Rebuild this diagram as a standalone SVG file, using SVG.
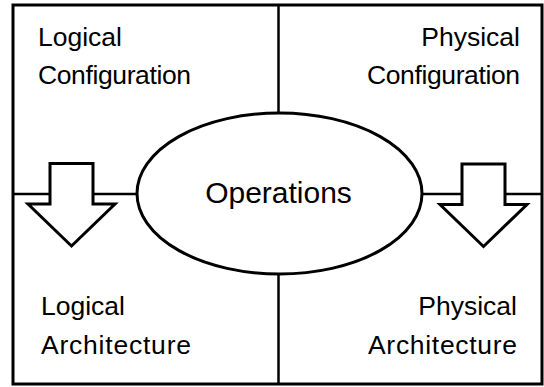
<svg xmlns="http://www.w3.org/2000/svg" width="544" height="387" viewBox="0 0 544 387">
  <style>
    .frame { fill: #fff; stroke: #000; stroke-width: 3; }
    .line { fill: none; stroke: #000; stroke-width: 2.5; }
    .shape { fill: #fff; stroke: #000; stroke-width: 3; stroke-linejoin: miter; }
    .lbl { font-family: "Liberation Sans", Arial, sans-serif; font-size: 26.5px; fill: #000; }
    .big { font-size: 30px; }
  </style>
  <defs>
    <!-- downward block arrow, origin at the shaft's top centre -->
    <polygon id="downArrow" class="shape" points="-21.5,0 21.5,0 21.5,40.5 43.5,40.5 0,82.5 -43.5,40.5 -21.5,40.5"/>
  </defs>

  <rect class="frame" x="13" y="5" width="529" height="379"/>

  <g id="connectors">
    <line class="line" x1="278.5" y1="5" x2="278.5" y2="113"/>
    <line class="line" x1="278.5" y1="274" x2="278.5" y2="384"/>
    <line class="line" x1="13" y1="194" x2="137" y2="194"/>
    <line class="line" x1="422" y1="194" x2="542" y2="194"/>
    <use href="#downArrow" x="71.5" y="163.5"/>
    <use href="#downArrow" x="483.5" y="164"/>
  </g>

  <g id="logical-configuration">
    <text class="lbl" x="38" y="46">Logical</text>
    <text class="lbl" x="38" y="84" textLength="153">Configuration</text>
  </g>

  <g id="physical-configuration">
    <text class="lbl" x="520" y="46" text-anchor="end">Physical</text>
    <text class="lbl" x="520" y="84" text-anchor="end" textLength="153">Configuration</text>
  </g>

  <g id="operations">
    <ellipse class="shape" cx="279.5" cy="193.5" rx="142.5" ry="80.5" stroke-width="2.5"/>
    <text class="lbl big" x="278.5" y="203" text-anchor="middle">Operations</text>
  </g>

  <g id="logical-architecture">
    <text class="lbl" x="41" y="315">Logical</text>
    <text class="lbl" x="41" y="354" textLength="150">Architecture</text>
  </g>

  <g id="physical-architecture">
    <text class="lbl" x="517" y="315" text-anchor="end">Physical</text>
    <text class="lbl" x="517" y="354" text-anchor="end" textLength="149">Architecture</text>
  </g>
</svg>
